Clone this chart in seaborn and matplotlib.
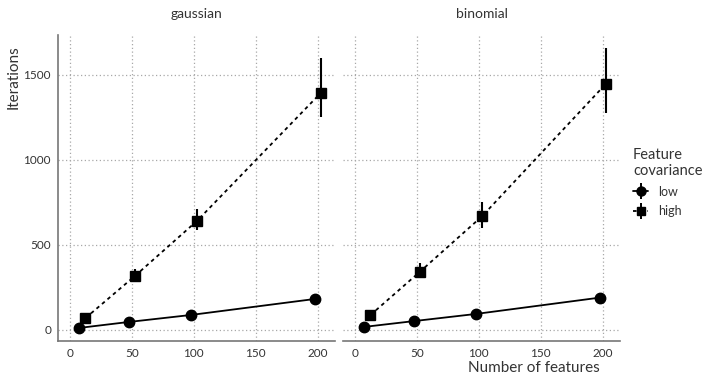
import matplotlib
matplotlib.use("Agg")
import matplotlib.pyplot as plt
import seaborn as sns
import pandas as pd
import numpy as np
from matplotlib.lines import Line2D

# ---- data ----
features = [10, 50, 100, 200]
families = ["gaussian", "binomial"]
covariance = ["low", "high"]

gauss_low = [12, 47, 88, 182]
gauss_low_lo = [12, 47, 88, 182]
gauss_low_hi = [12, 47, 88, 182]
gauss_high = [70, 318, 641, 1394]
gauss_high_lo = [60, 283, 588, 1250]
gauss_high_hi = [80, 360, 710, 1600]

binom_low = [18, 52, 94, 190]
binom_low_lo = [18, 52, 94, 190]
binom_low_hi = [18, 52, 94, 190]
binom_high = [88, 343, 668, 1447]
binom_high_lo = [78, 305, 600, 1276]
binom_high_hi = [98, 394, 753, 1660]

y_ticks = [0, 500, 1000, 1500]
x_ticks = [0, 50, 100, 150, 200]

rows = []
series = {
    ("gaussian", "low"): (gauss_low, gauss_low_lo, gauss_low_hi),
    ("gaussian", "high"): (gauss_high, gauss_high_lo, gauss_high_hi),
    ("binomial", "low"): (binom_low, binom_low_lo, binom_low_hi),
    ("binomial", "high"): (binom_high, binom_high_lo, binom_high_hi),
}
for (fam, cov), (vals, lo, hi) in series.items():
    for f, v, l, h in zip(features, vals, lo, hi):
        rows.append(dict(family=fam, cov=cov, features=f, iters=v, lo=l, hi=h))
df = pd.DataFrame(rows)
dodge = {"low": -2.5, "high": 2.5}
df["xpos"] = df["features"] + df["cov"].map(dodge)

sns.set_theme(style="white")
plt.rcParams["font.family"] = ["Lato", "DejaVu Sans"]

fig = plt.figure(figsize=(7.05, 3.74), dpi=100)
axes = [fig.add_axes([58/705, 33/374, 277/705, 306/374]),
        fig.add_axes([343/705, 33/374, 277/705, 306/374])]

grid_col = "#a8a8a8"
txt_col = "#333333"
markers = {"low": "o", "high": "s"}
msizes = {"low": 7.5, "high": 6.5}
dashes = {"low": "", "high": (2, 2)}

for ax, fam in zip(axes, families):
    sub = df[df["family"] == fam]
    sns.lineplot(data=sub, x="xpos", y="iters", style="cov", style_order=covariance,
                 markers=markers, dashes=dashes, color="black", ax=ax,
                 legend=False, linewidth=1.3, markersize=0, zorder=3)
    for cov in covariance:
        s = sub[sub["cov"] == cov]
        ax.errorbar(s["xpos"], s["iters"],
                    yerr=[s["iters"] - s["lo"], s["hi"] - s["iters"]],
                    fmt=markers[cov], color="black", ms=msizes[cov],
                    elinewidth=1.5, capsize=0, zorder=4)
    ax.set_xlim(-9.7, 214)
    ax.set_ylim(-65, 1735)
    ax.set_xticks(x_ticks)
    ax.set_yticks(y_ticks)
    ax.grid(True, linestyle=(0, (1, 2)), color=grid_col, linewidth=0.9)
    ax.set_axisbelow(True)
    for sp in ["top", "right"]:
        ax.spines[sp].set_visible(False)
    ax.spines["bottom"].set_color("#777777")
    ax.spines["bottom"].set_linewidth(1.2)
    ax.tick_params(axis="both", length=0, labelsize=8.5, colors=txt_col, pad=5)
    ax.set_xlabel("")
    ax.set_ylabel("")
    ax.set_title(fam, fontsize=10, color=txt_col, pad=12)

axes[0].spines["left"].set_color("#777777")
axes[0].spines["left"].set_linewidth(1.2)
axes[1].spines["left"].set_visible(False)
axes[1].tick_params(axis="y", labelleft=False)

fig.text(14/705, 1 - 45/374, "Iterations", rotation=90, ha="center", va="top",
         fontsize=11, color=txt_col)
fig.text(600/705, 1 - 368/374, "Number of features", ha="right", va="center",
         fontsize=11, color=txt_col)

handles = []
for c in covariance:
    ln = Line2D([0], [0], color="black", linestyle="-" if c == "low" else (0, (2, 2)),
                linewidth=1.3)
    mk = Line2D([0], [0], color="black", marker=markers[c], ms=msizes[c] - 1,
                linestyle="none")
    vl = Line2D([0], [0], color="black", marker="|", ms=11, mew=1.4, linestyle="none")
    handles.append((ln, vl, mk))
leg = fig.legend(handles, covariance, title="Feature\ncovariance",
                 loc="upper left", bbox_to_anchor=(633/705, 1 - 148/374),
                 frameon=False, fontsize=9, title_fontsize=10.5,
                 handlelength=1.2, handletextpad=0.8, labelspacing=0.6,
                 borderpad=0, borderaxespad=0)
leg._legend_box.align = "left"
for t in leg.get_texts():
    t.set_color(txt_col)
leg.get_title().set_color(txt_col)

fig.savefig("out.png", dpi=100)
